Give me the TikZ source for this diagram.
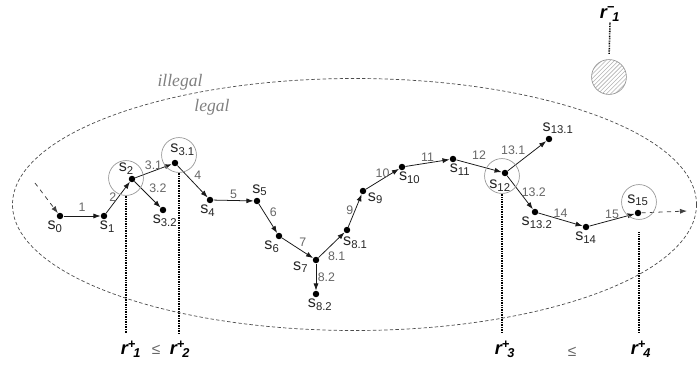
\documentclass[tikz,border=0pt]{standalone}
\usepackage{fontspec}
\setmainfont{Liberation Sans}
\newfontfamily\zoneserif{Liberation Serif}
\usetikzlibrary{arrows.meta,patterns}

\newcommand\stname[1]{s\textsubscript{#1}}
\newcommand\rbound[2]{\textbf{\textit{r\textsuperscript{#1}\kern-0.15em\textsubscript{#2}}}}

\begin{document}
\begin{tikzpicture}[x=0.025cm, y=-0.025cm, >={Latex[length=5pt,width=3.6pt]}, state/.style={circle, fill=black, inner sep=0pt, minimum size=4.6pt}, slbl/.style={font=\fontsize{11.5}{12}\selectfont, text=black!85, inner sep=0.8pt}, trans/.style={->, black!90, line width=0.55pt}, entry/.style={->, black!75, dashed, line width=0.55pt}, tlbl/.style={font=\fontsize{8.8}{10}\selectfont, text=black!60, inner sep=1pt}, ring/.style={circle, draw=black!40, line width=0.5pt, minimum size=24.8pt, inner sep=0pt}, probe/.style={black, line width=1.1pt, dash pattern=on 0.6pt off 0.6pt}, bound/.style={font=\fontsize{13}{15}\selectfont, inner sep=1pt}, cmp/.style={font=\fontsize{11}{12}\selectfont, text=black!60}, zone/.style={font=\zoneserif\itshape\fontsize{12.5}{14}\selectfont, text=black!50}]
\useasboundingbox (0,0) rectangle (699,367);
\draw[black!70, line width=0.5pt, dash pattern=on 2.4pt off 1.6pt] (354.5,204.5) ellipse [x radius=342, y radius=126];
\node[zone] (ill) at (180,82) {illegal};
\node[zone] (leg) at (212,107) {legal};
\node[state, label={[slbl, xshift=-3.5pt]below:\stname{0}}] (s0) at (60,216) {};
\node[state, label={[slbl, xshift=2.5pt]below:\stname{1}}] (s1) at (104,216) {};
\node[state, label={[slbl, xshift=-4pt]above:\stname{2}}] (s2) at (132,179) {};
\node[state, label={[slbl, xshift=5.5pt, label distance=2pt]above:\stname{3.1}}] (s31) at (175,163) {};
\node[state, label={[slbl, xshift=1.5pt]below:\stname{3.2}}] (s32) at (163,210) {};
\node[state, label={[slbl, xshift=-1.5pt]below:\stname{4}}] (s4) at (210,200) {};
\node[state, label={[slbl, xshift=2pt]above:\stname{5}}] (s5) at (257,201) {};
\node[state, label={[slbl, xshift=-5pt]below:\stname{6}}] (s6) at (279,236) {};
\node[state, label={[slbl, xshift=-2pt, yshift=-5pt]left:\stname{7}}] (s7) at (316,260) {};
\node[state, label={[slbl, xshift=6pt, label distance=1.5pt]below:\stname{8.1}}] (s81) at (347,230) {};
\node[state, label={[slbl, xshift=3pt]below:\stname{8.2}}] (s82) at (316,294) {};
\node[state, label={[slbl, yshift=-5pt]right:\stname{9}}] (s9) at (363,191) {};
\node[state, label={[slbl, xshift=5.5pt]below:\stname{10}}] (s10) at (402,167) {};
\node[state, label={[slbl, xshift=5pt]below:\stname{11}}] (s11) at (453,159) {};
\node[state, label={[slbl, xshift=-3.5pt, label distance=1.5pt]below:\stname{12}}] (s12) at (505,173) {};
\node[state, label={[slbl, xshift=6.5pt]above:\stname{13.1}}] (s131) at (549,139) {};
\node[state, label={[slbl, xshift=1.5pt]below:\stname{13.2}}] (s132) at (535,212) {};
\node[state, label={[slbl]below:\stname{14}}] (s14) at (586,227) {};
\node[state, label={[slbl, label distance=1.5pt]above:\stname{15}}] (s15) at (638,213) {};
\coordinate (in) at (35,183);
\coordinate (out) at (687,211);
\draw[entry] (in) -- (s0);
\draw[trans] (s0) -- node[tlbl, above=2pt] {1} (s1);
\draw[trans] (s1) -- node[tlbl, left] {2} (s2);
\draw[trans] (s2) -- node[tlbl, above] {3.1} (s31);
\draw[trans] (s2) -- node[tlbl, above right] {3.2} (s32);
\draw[trans] (s31) -- node[tlbl, above right] {4} (s4);
\draw[trans] (s4) -- node[tlbl, above] {5} (s5);
\draw[trans] (s5) -- node[tlbl, above right] {6} (s6);
\draw[trans] (s6) -- node[tlbl, above right] {7} (s7);
\draw[trans] (s7) -- node[tlbl, below right, pos=0.3] {8.1} (s81);
\draw[trans] (s7) -- node[tlbl, right] {8.2} (s82);
\draw[trans] (s81) -- node[tlbl, left] {9} (s9);
\draw[trans] (s9) -- node[tlbl, above] {10} (s10);
\draw[trans] (s10) -- node[tlbl, above] {11} (s11);
\draw[trans] (s11) -- node[tlbl, above=3pt] {12} (s12);
\draw[trans] (s12) -- node[tlbl, above left] {13.1} (s131);
\draw[trans] (s12) -- node[tlbl, right] {13.2} (s132);
\draw[trans] (s132) -- node[tlbl, above] {14} (s14);
\draw[trans] (s14) -- node[tlbl, above] {15} (s15);
\draw[entry] (s15) -- (out);
\node[ring] (c2) at (126,178) {};
\node[ring] (c31) at (179,155) {};
\node[ring] (c12) at (502,176) {};
\node[ring] (c15) at (639,202) {};
\node[bound] (r1) at (131,349) {\rbound{+}{1}};
\node[cmp] (le1) at (156,350) {≤};
\node[bound] (r2) at (180,349) {\rbound{+}{2}};
\node[bound] (r3) at (505,349) {\rbound{+}{3}};
\node[cmp] (le2) at (572,352) {≤};
\node[bound] (r4) at (641,349) {\rbound{+}{4}};
\draw[probe, shorten >=4pt] (c2.south) -- (c2.south |- r1.north);
\draw[probe, shorten >=4pt] (c31.south) -- (c31.south |- r2.north);
\draw[probe, shorten >=4pt] (c12.south) -- (c12.south |- r3.north);
\draw[probe, shorten >=4pt, shorten <=9pt] (c15.south) -- (c15.south |- r4.north);
\node[circle, draw=black!40, line width=0.5pt, pattern=north east lines, pattern color=black!30, minimum size=24.8pt, inner sep=0pt] (bad) at (609,77) {};
\node[bound] (rm1) at (610,14) {\rbound{−}{1}};
\draw[probe, shorten <=0pt, shorten >=3.5pt] (rm1.south) -- (bad.north);
\end{tikzpicture}
\end{document}
